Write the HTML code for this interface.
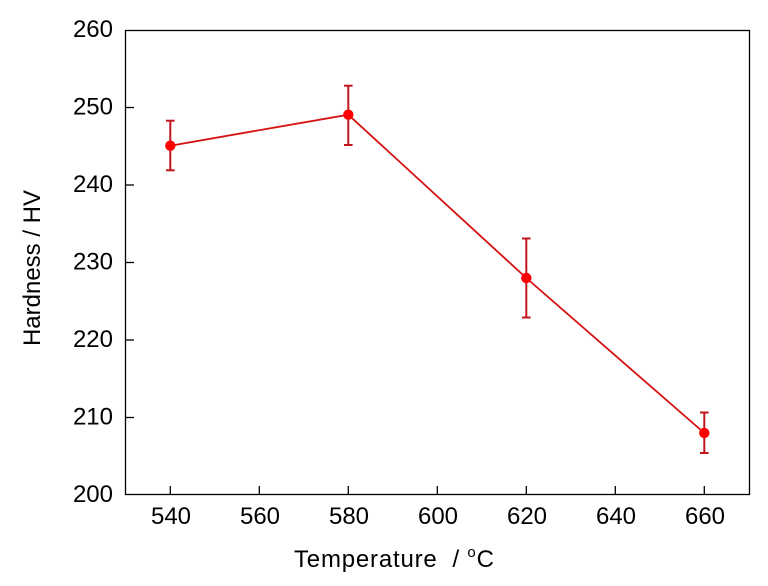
<!DOCTYPE html>
<html><head><meta charset="utf-8"><style>
body{margin:0;background:#fff;}
svg{display:block;font-family:"Liberation Sans",Arial,sans-serif;}
</style></head><body>
<svg width="768" height="586" viewBox="0 0 768 586" xmlns="http://www.w3.org/2000/svg">
<rect x="0" y="0" width="768" height="586" fill="#fff"/>
<rect x="125.5" y="30.5" width="624" height="464" fill="none" stroke="#000" stroke-width="1.3"/>
<g stroke="#000" stroke-width="1.3">
<line x1="125.5" y1="417.5" x2="134" y2="417.5"/>
<line x1="125.5" y1="340" x2="134" y2="340"/>
<line x1="125.5" y1="262.5" x2="134" y2="262.5"/>
<line x1="125.5" y1="185" x2="134" y2="185"/>
<line x1="125.5" y1="107.5" x2="134" y2="107.5"/>
<line x1="170.3" y1="494.5" x2="170.3" y2="486"/>
<line x1="259.3" y1="494.5" x2="259.3" y2="486"/>
<line x1="348.3" y1="494.5" x2="348.3" y2="486"/>
<line x1="437.3" y1="494.5" x2="437.3" y2="486"/>
<line x1="526.3" y1="494.5" x2="526.3" y2="486"/>
<line x1="615.3" y1="494.5" x2="615.3" y2="486"/>
<line x1="704.3" y1="494.5" x2="704.3" y2="486"/>
</g>
<g font-size="24" text-anchor="end" fill="#000">
<text x="113" y="502">200</text>
<text x="113" y="424.5">210</text>
<text x="113" y="347">220</text>
<text x="113" y="269.5">230</text>
<text x="113" y="192">240</text>
<text x="113" y="114.5">250</text>
<text x="113" y="37">260</text>
</g>
<g font-size="24" text-anchor="middle" fill="#000">
<text x="171" y="524">540</text>
<text x="260" y="524">560</text>
<text x="349" y="524">580</text>
<text x="438" y="524">600</text>
<text x="527" y="524">620</text>
<text x="616" y="524">640</text>
<text x="705" y="524">660</text>
</g>
<text x="294" y="567" font-size="24" letter-spacing="0.8" fill="#000">Temperature&#160;&#160;/ <tspan dy="-10" font-size="15">o</tspan><tspan dy="10">C</tspan></text>
<text transform="translate(40,268) rotate(-90)" font-size="24" text-anchor="middle" fill="#000">Hardness / HV</text>
<g stroke="#c0161e" stroke-width="2">
<line x1="170.3" y1="120.7" x2="170.3" y2="170.3"/><line x1="166" y1="120.7" x2="174.6" y2="120.7"/><line x1="166" y1="170.3" x2="174.6" y2="170.3"/>
<line x1="348.3" y1="85.7" x2="348.3" y2="145"/><line x1="344" y1="85.7" x2="352.6" y2="85.7"/><line x1="344" y1="145" x2="352.6" y2="145"/>
<line x1="526.3" y1="238.5" x2="526.3" y2="317.5"/><line x1="522" y1="238.5" x2="530.6" y2="238.5"/><line x1="522" y1="317.5" x2="530.6" y2="317.5"/>
<line x1="704.3" y1="412.5" x2="704.3" y2="453"/><line x1="700" y1="412.5" x2="708.6" y2="412.5"/><line x1="700" y1="453" x2="708.6" y2="453"/>
</g>
<polyline points="170.3,145.7 348.3,114.7 526.3,278 704.3,433" fill="none" stroke="#d41010" stroke-width="1.8"/>
<g fill="#ff0000">
<circle cx="170.3" cy="145.7" r="5.2"/>
<circle cx="348.3" cy="114.7" r="5.2"/>
<circle cx="526.3" cy="278" r="5.2"/>
<circle cx="704.3" cy="433" r="5.2"/>
</g>
</svg>
</body></html>
